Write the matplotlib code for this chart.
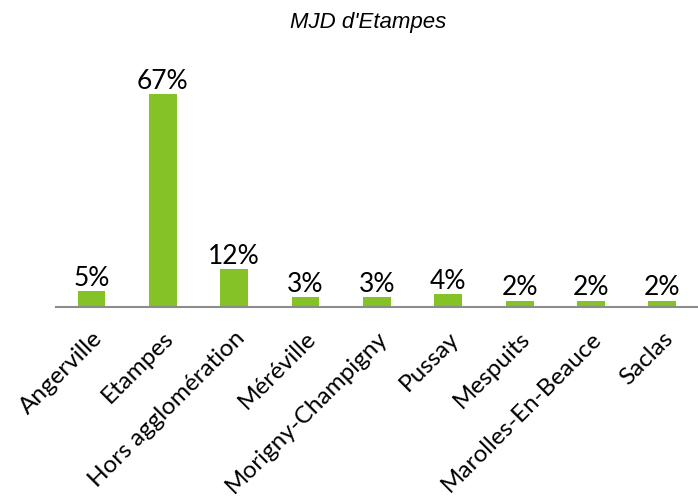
import matplotlib.pyplot as plt

communes = ['Angerville', 'Etampes', 'Hors agglomération', 'Méréville',
            'Morigny-Champigny', 'Pussay', 'Mespuits', 'Marolles-En-Beauce', 'Saclas']
parts = [5, 67, 12, 3, 3, 4, 2, 2, 2]

fig = plt.figure(figsize=(6.98, 4.99), dpi=100)
ax = fig.add_axes([0.08, 0.385, 0.92, 0.445])

x = range(len(communes))
bars = ax.bar(x, parts, width=0.39, color='#84C225')

for b, v in zip(bars, parts):
    ax.text(b.get_x() + b.get_width() / 2, v + 0.1, f'{v}%',
            ha='center', va='bottom', fontsize=19, family='Lato')

ax.set_xlim(-0.5, len(communes) - 0.5)
ax.set_ylim(0, 70)
ax.set_yticks([])
for s in ['top', 'right', 'left']:
    ax.spines[s].set_visible(False)
ax.spines['bottom'].set_color('#8c8c8c')
ax.spines['bottom'].set_linewidth(1.5)

ax.set_xticks(list(x))
ax.set_xticklabels(communes, rotation=45, ha='right', rotation_mode='anchor',
                   fontsize=17.5, family='Lato')
ax.tick_params(axis='x', length=0, pad=15)

fig.text(0.527, 0.955, "MJD d'Etampes", ha='center', va='center', fontsize=16,
         style='italic', family='Liberation Sans')

fig.savefig('out.png')
